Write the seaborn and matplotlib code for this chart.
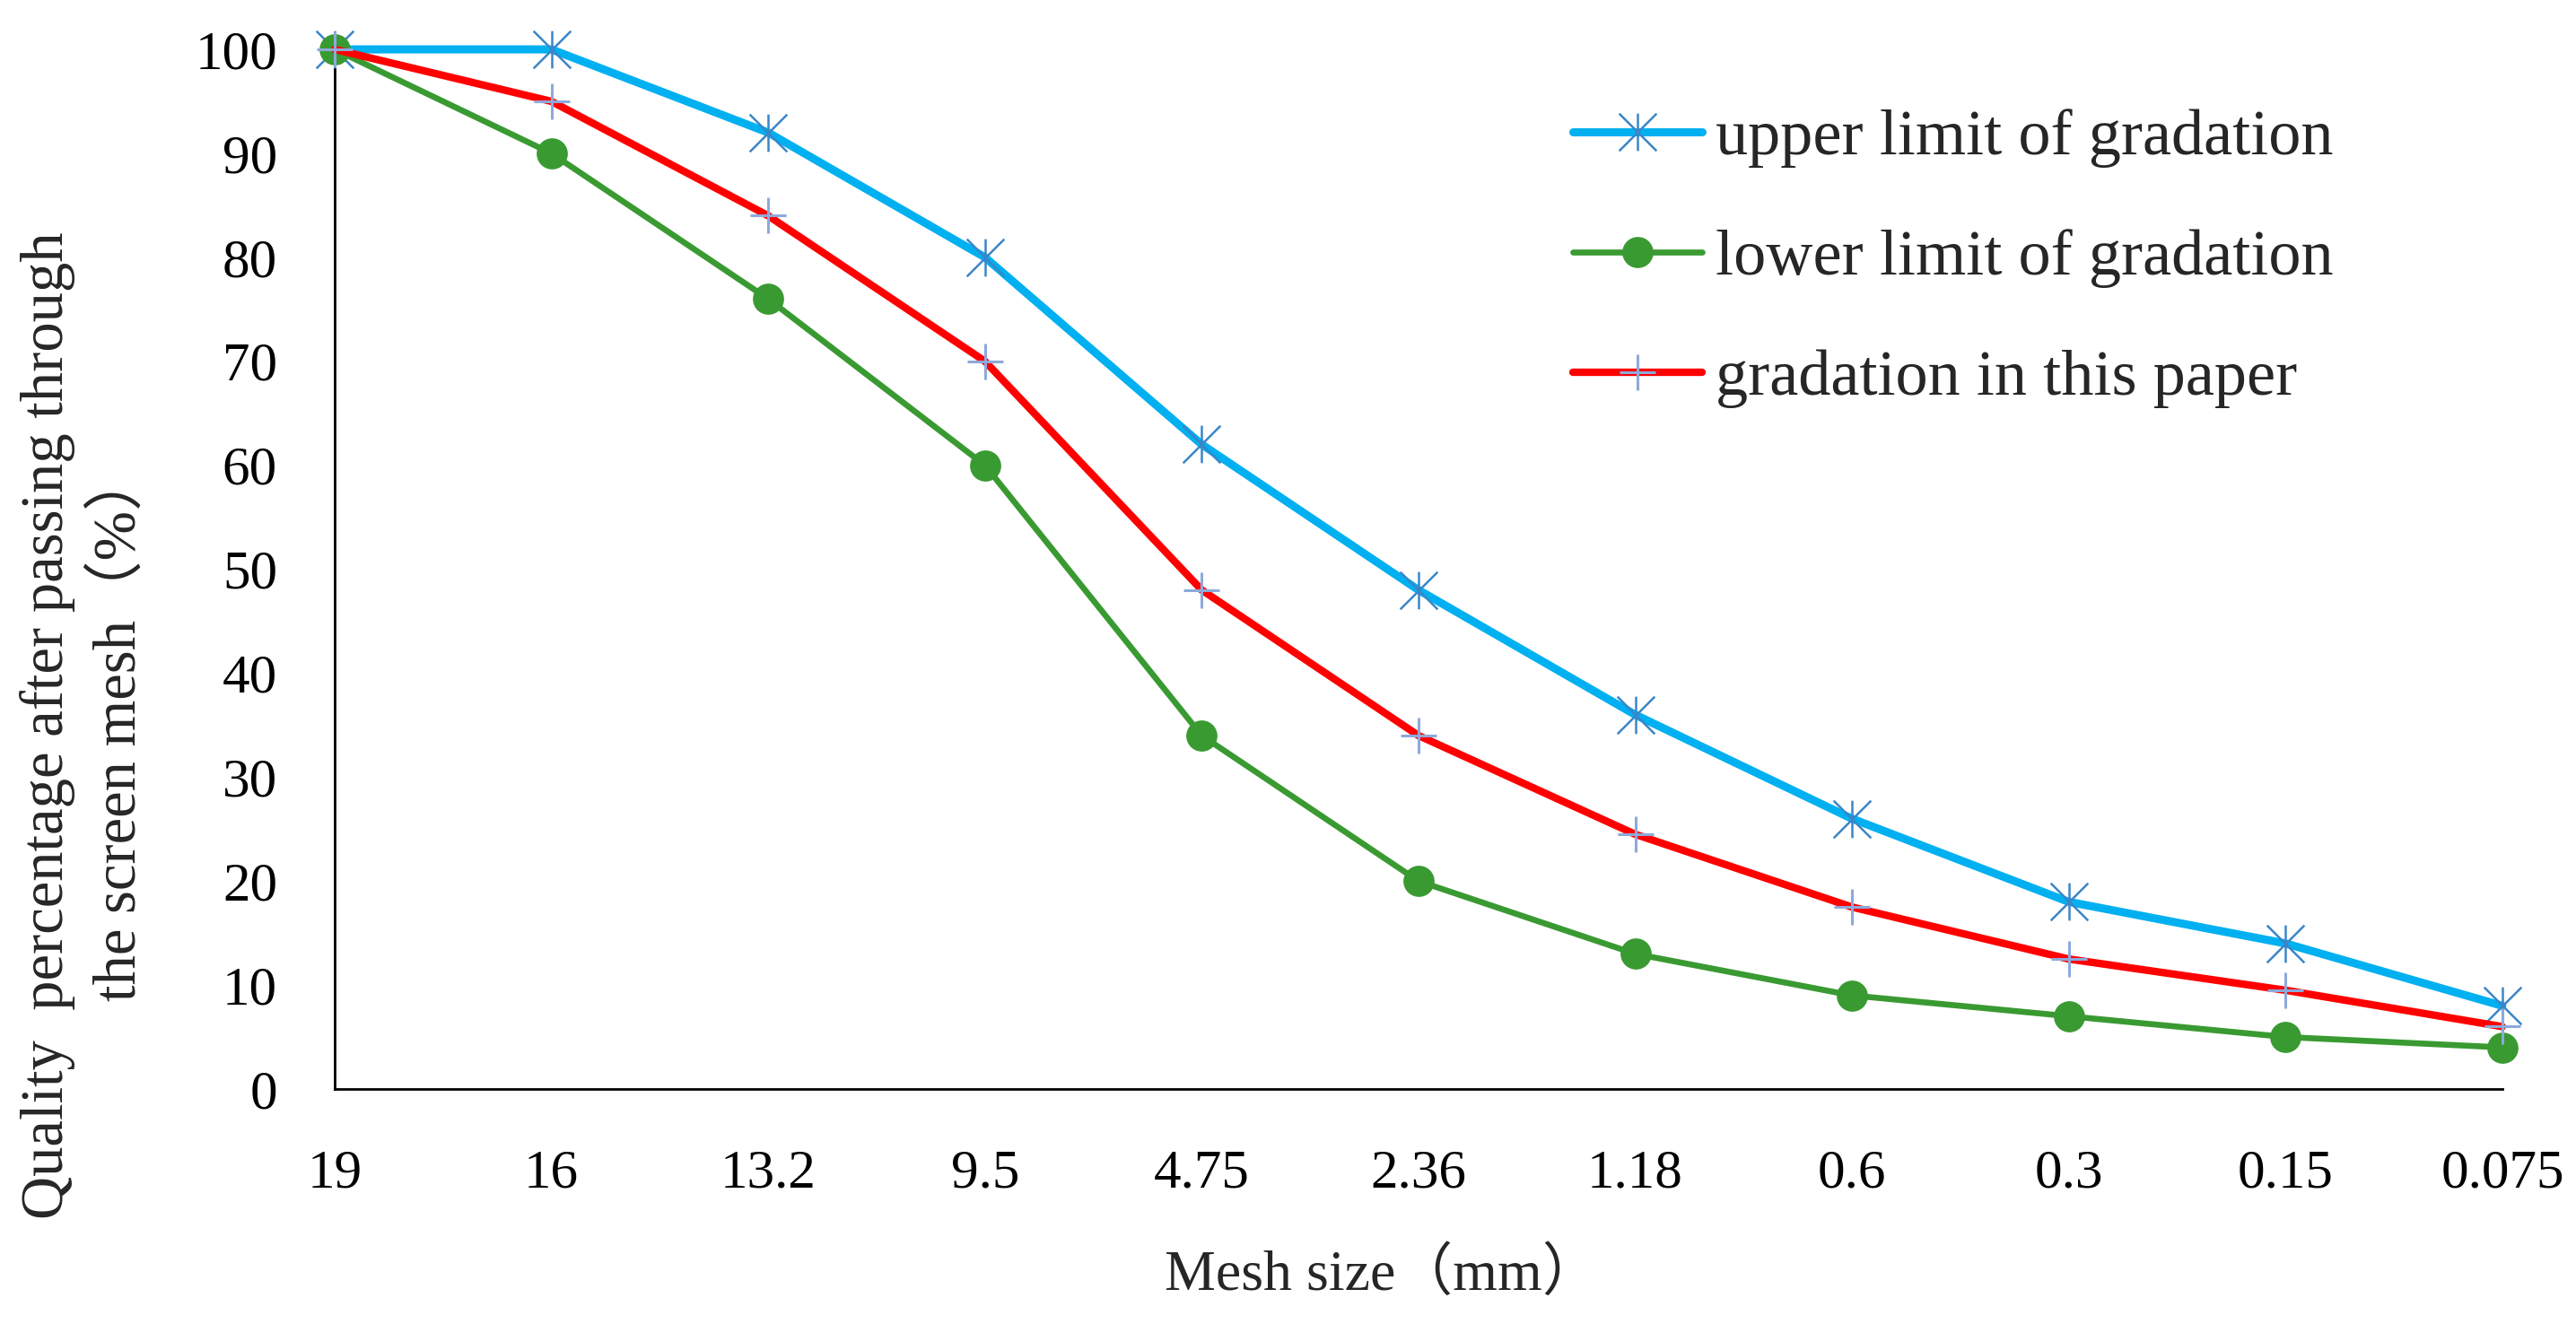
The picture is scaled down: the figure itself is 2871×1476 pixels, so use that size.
import numpy as np
import pandas as pd
import matplotlib
matplotlib.use("Agg")
import matplotlib.pyplot as plt
from matplotlib.path import Path
import seaborn as sns

# sieve sizes (mm) and passing percentages
mesh_sizes = ["19", "16", "13.2", "9.5", "4.75", "2.36", "1.18", "0.6", "0.3", "0.15", "0.075"]
upper_limit = [100, 100, 92, 80, 62, 48, 36, 26, 18, 14, 8]
lower_limit = [100, 90, 76, 60, 34, 20, 13, 9, 7, 5, 4]
this_paper = [100, 95, 84, 70, 48, 34, 24.5, 17.5, 12.5, 9.5, 6]
y_ticks = [0, 10, 20, 30, 40, 50, 60, 70, 80, 90, 100]

sns.set_style("white")
plt.rcParams["font.family"] = ["Liberation Serif", "Noto Sans CJK SC"]

pos = np.arange(len(mesh_sizes))
df = pd.DataFrame({"pos": pos, "upper": upper_limit, "lower": lower_limit, "paper": this_paper})

# asterisk marker: vertical bar plus an X
star = Path([(0, -1), (0, 1), (-1, -1), (1, 1), (-1, 1), (1, -1)],
            [Path.MOVETO, Path.LINETO, Path.MOVETO, Path.LINETO, Path.MOVETO, Path.LINETO])

fig = plt.figure(figsize=(28.71, 14.76), dpi=100)
ax = fig.add_axes([0.1299, 0.1775, 0.8415, 0.7852])

sns.lineplot(data=df, x="pos", y="upper", ax=ax, color="#00B0F0", linewidth=6.5,
             marker=star, markersize=30, markeredgecolor="#3A86C8", markeredgewidth=1.8,
             label="upper limit of gradation", clip_on=False, zorder=3)
sns.lineplot(data=df, x="pos", y="lower", ax=ax, color="#3A9A32", linewidth=4.8,
             marker="o", markersize=25, markeredgecolor="#3A9A32", markerfacecolor="#3A9A32",
             markeredgewidth=0, label="lower limit of gradation", clip_on=False, zorder=3)
sns.lineplot(data=df, x="pos", y="paper", ax=ax, color="#FF0000", linewidth=6,
             marker="+", markersize=29, markeredgecolor="#8EA9DB", markeredgewidth=2.2,
             label="gradation in this paper", clip_on=False, zorder=4)

ax.set_xlim(0, len(mesh_sizes) - 1)
ax.set_ylim(0, 100)
ax.set_xticks(pos)
ax.set_xticklabels(mesh_sizes)
ax.set_yticks(y_ticks)
ax.set_xlabel("")
ax.set_ylabel("")

for side in ["top", "right"]:
    ax.spines[side].set_visible(False)
for side in ["left", "bottom"]:
    ax.spines[side].set_linewidth(2)
    ax.spines[side].set_color("black")

ax.tick_params(axis="x", direction="in", length=25, width=1.5, pad=48, labelsize=44, colors="black")
ax.tick_params(axis="y", direction="in", length=18, width=1.5, pad=46, labelsize=44, colors="black")

leg = ax.legend(loc="upper left", bbox_to_anchor=(0.6106, 0.918), bbox_transform=fig.transFigure,
                frameon=False, fontsize=52, handlelength=2.0, handletextpad=0.2,
                labelspacing=0.95, borderpad=0, borderaxespad=0)

fig.text(0.5365, 0.037, "Mesh size（mm）", ha="center", va="center", fontsize=46)
fig.text(0.0325, 0.452, "Quality  percentage after passing through\nthe screen mesh（%）",
         rotation=90, ha="center", va="center", multialignment="center", fontsize=48,
         linespacing=1.35)

fig.savefig("out.png", dpi=100)
